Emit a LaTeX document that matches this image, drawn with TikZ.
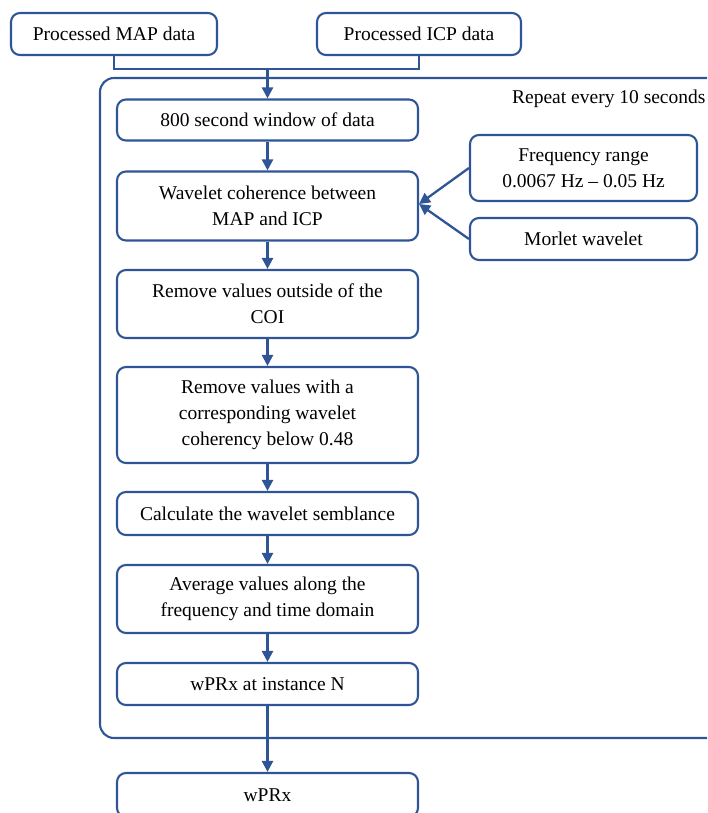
\documentclass[tikz,border=0pt]{standalone}
\usepackage{fontspec}
\setmainfont{Liberation Serif}
\usetikzlibrary{arrows.meta}
\definecolor{bl}{RGB}{47,85,151}
\tikzset{
  box/.style={draw=bl, line width=2.1pt, rounded corners=9pt, align=center,
    inner sep=0pt, font=\fontsize{19.5}{26}\selectfont, text=black},
  conn/.style={draw=bl, line width=2.3pt, -{Triangle[length=11pt,width=11pt]}},
  line/.style={draw=bl, line width=2.3pt}
}
\begin{document}
\begin{tikzpicture}[x=1pt,y=-1pt]
\useasboundingbox (0,0) rectangle (707,813);
\clip (0,0) rectangle (707,813);
% outer repeat frame
\draw[line, line width=2.1pt, rounded corners=14pt] (100,78) rectangle (740,738);
\node[anchor=east, font=\fontsize{19.5}{26}\selectfont] (rep) at (709,99) {Repeat every 10 seconds};
% top inputs
\node[box, minimum width=206pt, minimum height=42pt] (map) at (114,34) {Processed MAP data};
\node[box, minimum width=204pt, minimum height=42pt] (icp) at (419,34) {Processed ICP data};
% main column
\node[box, minimum width=301pt, minimum height=41pt] (win) at (267.5,120) {800 second window of data};
\node[box, minimum width=301pt, minimum height=69pt] (wave) at (267.5,206) {Wavelet coherence between\\MAP and ICP};
\node[box, minimum width=301pt, minimum height=68pt] (coi) at (267.5,304) {Remove values outside of the\\COI};
\node[box, minimum width=301pt, minimum height=96pt] (rem) at (267.5,415) {Remove values with a\\corresponding wavelet\\coherency below 0.48};
\node[box, minimum width=301pt, minimum height=43pt] (calc) at (267.5,513.5) {Calculate the wavelet semblance};
\node[box, minimum width=301pt, minimum height=68pt] (avg) at (267.5,599) {Average values along the\\frequency and time domain};
\node[box, minimum width=301pt, minimum height=42pt] (inst) at (267.5,684) {wPRx at instance N};
\node[box, minimum width=301pt, minimum height=44pt] (out) at (267.5,795) {wPRx};
% side inputs
\node[box, minimum width=227pt, minimum height=66pt] (freq) at (583.5,168) {Frequency range\\0.0067 Hz -- 0.05 Hz};
\node[box, minimum width=227pt, minimum height=42pt] (mor) at (583.5,239) {Morlet wavelet};
% connectors
\coordinate (join) at (267.5,69);
\draw[line] (map.south) |- (join) -| (icp.south);
\draw[conn] (join) -- (win.north);
\draw[conn] (win) -- (wave);
\draw[conn] (wave) -- (coi);
\draw[conn] (coi) -- (rem);
\draw[conn] (rem) -- (calc);
\draw[conn] (calc) -- (avg);
\draw[conn] (avg) -- (inst);
\draw[conn] (inst) -- (out);
\coordinate (tip) at ([yshift=2pt]wave.east);
\draw[conn] (freq.west) -- (tip);
\draw[conn] (mor.west) -- (tip);
\end{tikzpicture}
\end{document}
